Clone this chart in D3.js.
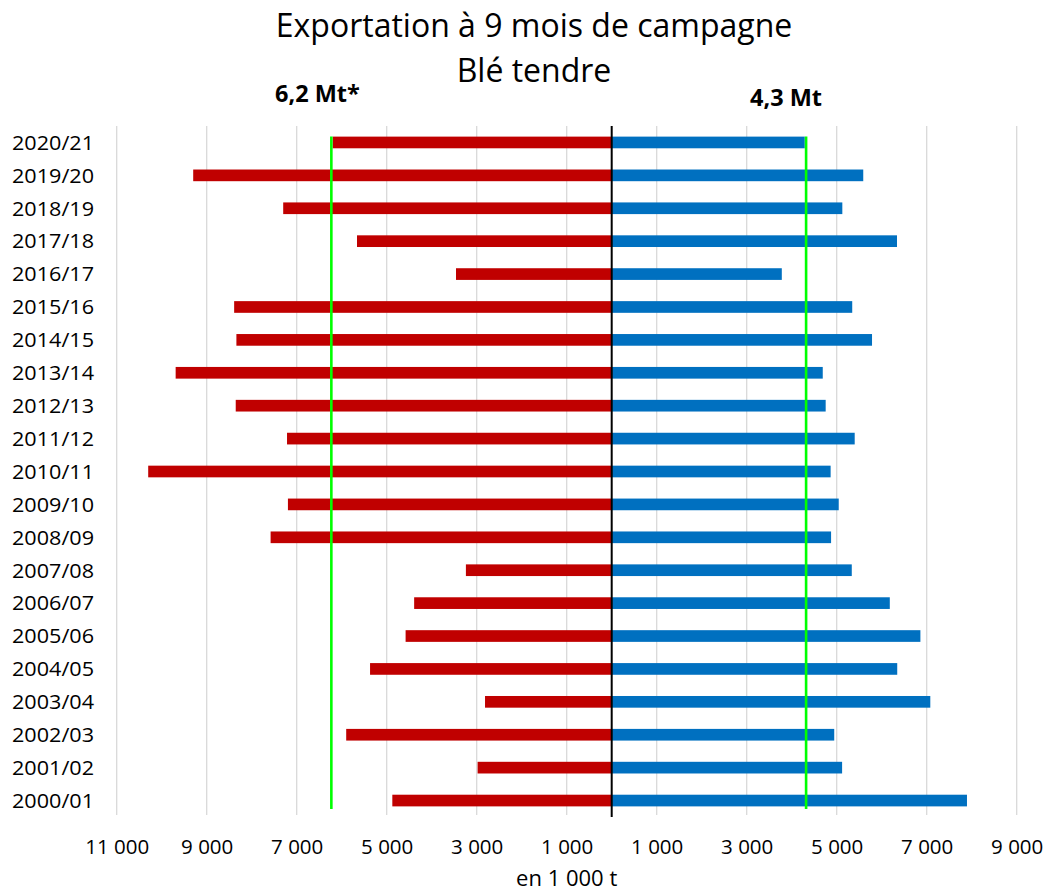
<!DOCTYPE html>
<html>
<head>
<meta charset="utf-8">
<script src="https://cdn.jsdelivr.net/npm/d3@7"></script>
<style>
  html, body { margin: 0; padding: 0; background: #fff; }
  svg { display: block; font-family: "Open Sans", "Noto Sans", sans-serif; }
</style>
</head>
<body>
<svg id="chart" width="1047" height="896"></svg>
<script>
// ---- Data (en 1 000 t) ----
const categories = ["2020/21","2019/20","2018/19","2017/18","2016/17","2015/16","2014/15","2013/14","2012/13","2011/12","2010/11","2009/10","2008/09","2007/08","2006/07","2005/06","2004/05","2003/04","2002/03","2001/02","2000/01"];
const leftValues  = [6200, 9300, 7300, 5660, 3460, 8390, 8340, 9690, 8355, 7215, 10300, 7195, 7580, 3240, 4390, 4580, 5370, 2815, 5900, 2980, 4875];
const rightValues = [4290, 5590, 5125, 6340, 3780, 5345, 5785, 4690, 4755, 5400, 4865, 5045, 4875, 5335, 6180, 6860, 6345, 7080, 4945, 5120, 7895];
const refValues = [-6230, 4320];
const refLabels = ["6,2 Mt*", "4,3 Mt"];
const tickValues = [-11000, -9000, -7000, -5000, -3000, -1000, 1000, 3000, 5000, 7000, 9000];
const titleLines = ["Exportation à 9 mois de campagne", "Blé tendre"];
const axisTitle = "en 1 000 t";

// ---- Layout ----
const svg = d3.select("#chart");
const plot = { left: 116.7, right: 1016.7, top: 126, bottom: 817 };

const x = d3.scaleLinear().domain([-11000, 9000]).range([plot.left, plot.right]);
const y = d3.scaleBand().domain(categories).range([plot.top, plot.bottom])
  .paddingInner(0.645).paddingOuter(0.3225);

const fr = d3.formatLocale({ decimal: ",", thousands: "\u00a0", grouping: [3], currency: ["", ""] });
const fmt = fr.format(",");

// gridlines
svg.append("g").selectAll("line").data(tickValues).join("line")
  .attr("x1", d => x(d)).attr("x2", d => x(d))
  .attr("y1", plot.top).attr("y2", 815)
  .attr("stroke", "#d9d9d9").attr("stroke-width", 1.3);

// bars
svg.append("g").selectAll("rect").data(categories).join("rect")
  .attr("x", (d, i) => x(-leftValues[i]))
  .attr("width", (d, i) => x(0) - x(-leftValues[i]))
  .attr("y", d => y(d)).attr("height", y.bandwidth())
  .attr("fill", "#c00000");

svg.append("g").selectAll("rect").data(categories).join("rect")
  .attr("x", x(0))
  .attr("width", (d, i) => x(rightValues[i]) - x(0))
  .attr("y", d => y(d)).attr("height", y.bandwidth())
  .attr("fill", "#0070c0");

// zero axis line
svg.append("line")
  .attr("x1", x(0)).attr("x2", x(0))
  .attr("y1", plot.top).attr("y2", plot.bottom)
  .attr("stroke", "#000").attr("stroke-width", 2);

// reference green lines
svg.append("g").selectAll("line").data(refValues).join("line")
  .attr("x1", d => x(d)).attr("x2", d => x(d))
  .attr("y1", 136.5).attr("y2", 809)
  .attr("stroke", "#00ff00").attr("stroke-width", 2.6);

// category labels
svg.append("g").selectAll("text").data(categories).join("text")
  .attr("x", 94).attr("y", d => y(d) + y.bandwidth() / 2 + 7.3)
  .attr("text-anchor", "end")
  .attr("font-size", 19.5).attr("fill", "#000")
  .attr("textLength", 82).attr("lengthAdjust", "spacingAndGlyphs")
  .text(d => d);

// x axis tick labels
const xAxis = d3.axisBottom(x).tickValues(tickValues).tickSize(0).tickPadding(0)
  .tickFormat(d => fmt(Math.abs(d)));
const gx = svg.append("g").attr("transform", "translate(0,835)").call(xAxis);
gx.select(".domain").remove();
gx.selectAll("text").attr("font-size", 20.5).attr("fill", "#000")
  .attr("font-family", "'Open Sans', sans-serif").attr("dy", "0.93em");

// axis title
svg.append("text").attr("x", (plot.left + plot.right) / 2).attr("y", 886).attr("text-anchor", "middle")
  .attr("font-size", 22).attr("fill", "#000").text(axisTitle);

// chart title
svg.append("text").attr("x", 534).attr("y", 37).attr("text-anchor", "middle")
  .attr("font-size", 32).attr("fill", "#000").text(titleLines[0]);
svg.append("text").attr("x", 534).attr("y", 82).attr("text-anchor", "middle")
  .attr("font-size", 32).attr("fill", "#000").text(titleLines[1]);

// reference labels
const refLabelPos = [{ x: 275, y: 102 }, { x: 750, y: 106 }];
svg.append("g").selectAll("text").data(refLabels).join("text")
  .attr("x", (d, i) => refLabelPos[i].x).attr("y", (d, i) => refLabelPos[i].y)
  .attr("font-size", 23.5).attr("font-weight", "bold").attr("fill", "#000")
  .text(d => d);
</script>
</body>
</html>
